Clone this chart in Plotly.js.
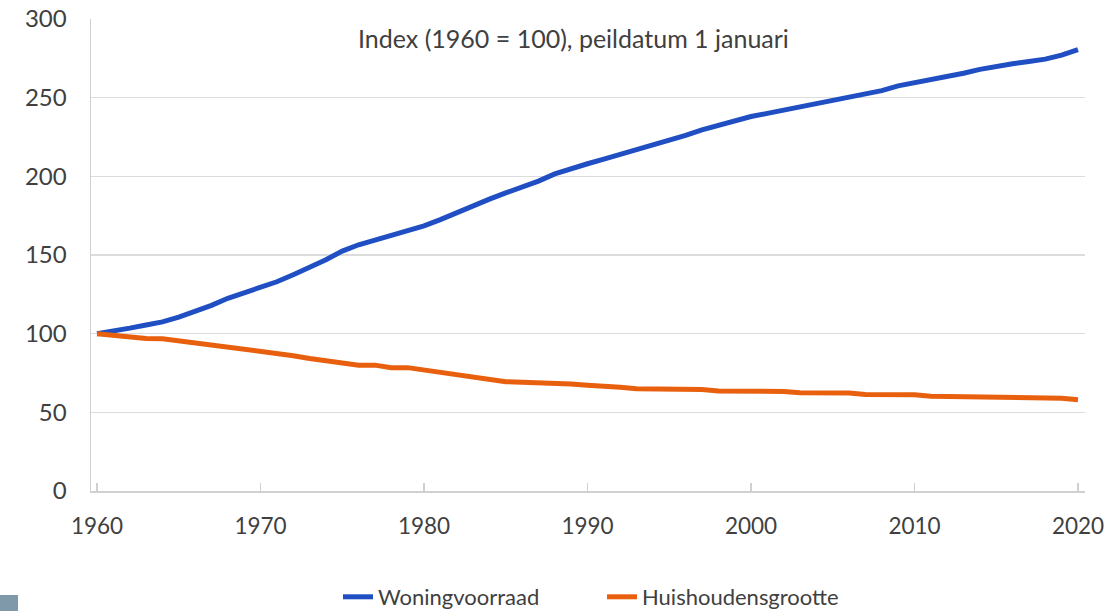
<!DOCTYPE html>
<html>
<head>
<meta charset="utf-8">
<script src="https://cdn.plot.ly/plotly-3.0.1.min.js"></script>
<style>
html,body{margin:0;padding:0;background:#fff;overflow:hidden;}
#chart{width:1104px;height:611px;}
</style>
</head>
<body>
<div id="chart"></div>
<script>
const years = [];
for (let y = 1960; y <= 2020; y++) years.push(y);

const woningvoorraad = [
  100, 101.5, 103.5, 105.5, 107.5, 110.5, 114, 118, 122.5, 126,
  129.5, 133, 137.5, 142, 147, 152.5, 156.5, 159.5, 162.5, 166,
  168.5, 172.5, 177, 181.5, 185.5, 189.5, 193, 197, 201.5, 205,
  208, 211, 214, 217, 220, 222.5, 226, 229.5, 232.5, 235.5,
  238, 240, 242, 244, 246, 248, 250, 252, 254.5, 257.5,
  259.5, 261, 263, 265.5, 268, 270, 271.5, 273, 274.5, 277,
  280.5
];

const huishoudensgrootte = [
  100, 99, 98, 97, 96.8, 95.5, 94, 93, 91.5, 90.5,
  89, 87.8, 86, 84.2, 83, 81.8, 80, 80, 78.4, 78.4,
  77, 75.8, 74.5, 72.8, 71.3, 69.5, 69.1, 69, 68.2, 68,
  67.2, 67, 66, 65, 64.9, 64.9, 64.9, 64.5, 63.5, 63.4,
  63.4, 63.4, 63.3, 62.4, 62.4, 62.4, 62.3, 61.4, 61.3, 61.3,
  61.2, 60.2, 60, 60, 59.2, 59.1, 59.1, 59.1, 59.1, 59,
  58
];

const seriesNames = ["Woningvoorraad", "Huishoudensgrootte"];
const xTicks = [1960, 1970, 1980, 1990, 2000, 2010, 2020];
const yTicks = [0, 50, 100, 150, 200, 250, 300];
const titleText = "Index (1960 = 100), peildatum 1 januari";

const FONT = "Lato, 'Open Sans', 'DejaVu Sans', sans-serif";
const TXT = "#404040";

const traces = [
  {x: years, y: woningvoorraad, name: seriesNames[0], type: "scatter", mode: "lines",
   line: {color: "#1f4fc2", width: 5}},
  {x: years, y: huishoudensgrootte, name: seriesNames[1], type: "scatter", mode: "lines",
   line: {color: "#e8600e", width: 5}}
];

const W = 1104, H = 611;
const mL = 91, mR = 19, mT = 19, mB = 120;
const pw = W - mL - mR, ph = H - mT - mB;
function px2paperX(px){ return (px - mL) / pw; }
function py2paperY(py){ return (H - mB - py) / ph; }

const layout = {
  width: W, height: H,
  margin: {l: mL, r: mR, t: mT, b: mB, pad: 0, autoexpand: false},
  paper_bgcolor: "#ffffff",
  plot_bgcolor: "#ffffff",
  font: {family: FONT, color: TXT, size: 24},
  showlegend: true,
  legend: {
    orientation: "h",
    xref: "container", yref: "container",
    x: 338 / W, xanchor: "left",
    y: 1 - 597 / H, yanchor: "middle",
    font: {family: FONT, size: 22, color: TXT},
    bgcolor: "rgba(0,0,0,0)",
    itemwidth: 30,
    entrywidth: 219, entrywidthmode: "pixels"
  },
  xaxis: {
    range: [1959.63, 2020.43],
    tickmode: "array", tickvals: xTicks, ticktext: xTicks.map(String),
    showgrid: false, zeroline: false,
    showline: true, linecolor: "#d0d0d0", linewidth: 1.5,
    ticks: "inside", ticklen: 8, tickcolor: "#d0d0d0", tickwidth: 1.5,
    ticklabelstandoff: 14,
    ticklabeloverflow: "allow",
    tickfont: {family: FONT, size: 22.5, color: TXT},
    fixedrange: true
  },
  yaxis: {
    range: [0, 300],
    tickmode: "array", tickvals: yTicks, ticktext: yTicks.map(String),
    showgrid: true, gridcolor: "#dcdcdc", gridwidth: 1.5,
    zeroline: false,
    showline: true, linecolor: "#d0d0d0", linewidth: 1.5,
    ticks: "", ticklabelstandoff: 18,
    ticklabeloverflow: "allow",
    tickfont: {family: FONT, size: 24, color: TXT},
    fixedrange: true
  },
  annotations: [{
    text: titleText, xref: "paper", yref: "paper",
    x: px2paperX(573), y: py2paperY(38), xanchor: "center", yanchor: "middle",
    showarrow: false, font: {family: FONT, size: 25, color: TXT}
  }],
  shapes: [{
    type: "rect", xref: "paper", yref: "paper",
    x0: px2paperX(0), x1: px2paperX(18), y0: py2paperY(611), y1: py2paperY(595),
    fillcolor: "#7f98aa", line: {width: 0}, layer: "above"
  }]
};

Plotly.newPlot("chart", traces, layout, {displayModeBar: false, staticPlot: true});
</script>
</body>
</html>
